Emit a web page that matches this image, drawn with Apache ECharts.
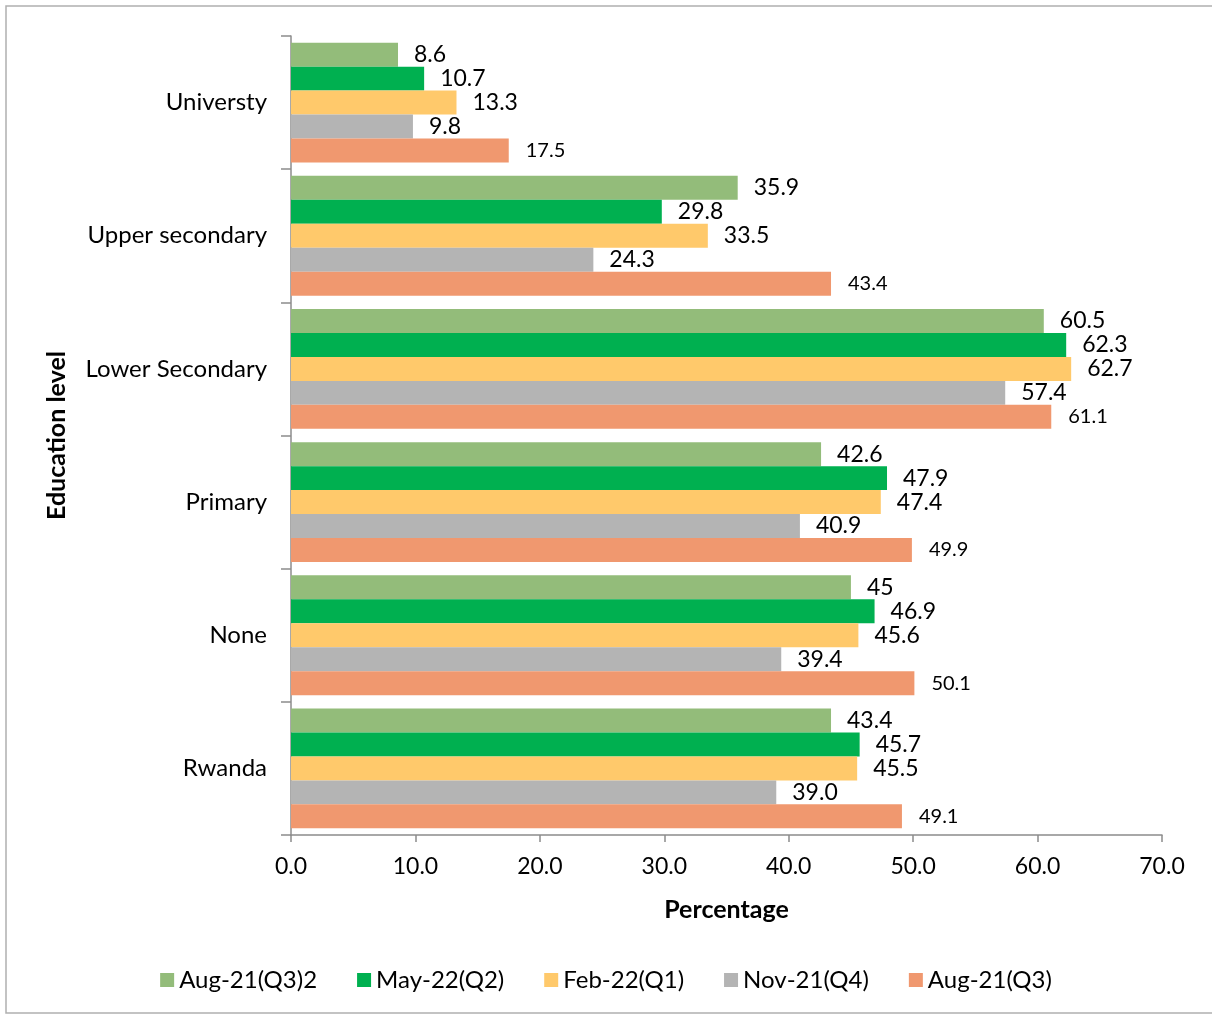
<!DOCTYPE html>
<html>
<head>
<meta charset="utf-8">
<script src="https://cdn.jsdelivr.net/npm/echarts@6/dist/echarts.min.js"></script>
<style>
  html, body { margin: 0; padding: 0; background: #fff; }
  #chart { width: 1212px; height: 1015px; }
</style>
</head>
<body>
<div id="chart"></div>
<script>
const categories = ['Rwanda', 'None', 'Primary', 'Lower Secondary', 'Upper secondary', 'Universty']

const aug21b = [43.4, 45, 42.6, 60.5, 35.9, 8.6]
const may22 = [45.7, 46.9, 47.9, 62.3, 29.8, 10.7]
const feb22 = [45.5, 45.6, 47.4, 62.7, 33.5, 13.3]
const nov21 = [39.0, 39.4, 40.9, 57.4, 24.3, 9.8]
const aug21 = [49.1, 50.1, 49.9, 61.1, 43.4, 17.5]

const seriesNames = ['Aug-21(Q3)2', 'May-22(Q2)', 'Feb-22(Q1)', 'Nov-21(Q4)', 'Aug-21(Q3)']
const seriesData = [aug21b, may22, feb22, nov21, aug21]
const colors = ['#93BC7A', '#00B050', '#FFC96B', '#B4B4B4', '#F0986F']

const font = 'Lato, "Open Sans", sans-serif'
const chart = echarts.init(document.getElementById('chart'))

const series = seriesNames.map((name, i) => ({
    name: name,
    type: 'bar',
    data: seriesData[i],
    barGap: 0,
    barCategoryGap: '10%',
    itemStyle: { color: colors[i] },
    label: {
        show: true,
        position: 'right',
        distance: i === 4 ? 17 : 16,
        color: '#000',
        fontFamily: font,
        fontSize: i === 4 ? 20 : 23,
        formatter: p => i === 0 ? String(p.value) : p.value.toFixed(1)
    }
}))

chart.setOption({
    animation: false,
    textStyle: { fontFamily: font },
    graphic: [{
        type: 'rect',
        shape: { x: 6, y: 6, width: 1220, height: 1007 },
        style: { fill: null, stroke: '#B0B0B0', lineWidth: 1.5 },
        silent: true
    }],
    legend: {
        data: seriesNames,
        top: 963,
        left: 'center',
        itemWidth: 14,
        itemHeight: 14,
        itemGap: 40,
        icon: 'rect',
        textStyle: { fontSize: 24, color: '#000', fontFamily: font }
    },
    grid: { left: 291, right: 50, top: 36, bottom: 180 },
    xAxis: {
        type: 'value',
        min: 0,
        max: 70,
        interval: 10,
        name: 'Percentage',
        nameLocation: 'middle',
        nameGap: 62,
        nameTextStyle: { fontSize: 25, fontWeight: 'bold', color: '#000', fontFamily: font },
        axisLine: { show: true, lineStyle: { color: '#8C8C8C', width: 1.5 } },
        axisTick: { show: true, length: 7, lineStyle: { color: '#8C8C8C', width: 1.5 } },
        axisLabel: { fontSize: 23, color: '#000', margin: 20, formatter: v => v.toFixed(1), fontFamily: font },
        splitLine: { show: false }
    },
    yAxis: {
        type: 'category',
        data: categories,
        name: 'Education level',
        nameLocation: 'middle',
        nameGap: 222,
        nameRotate: 90,
        nameTextStyle: { fontSize: 25, fontWeight: 'bold', color: '#000', fontFamily: font },
        axisLine: { show: true, lineStyle: { color: '#8C8C8C', width: 1.5 } },
        axisTick: { show: true, length: 10, lineStyle: { color: '#8C8C8C', width: 1.5 } },
        axisLabel: { fontSize: 24, color: '#000', margin: 24, fontFamily: font }
    },
    series: series
})
</script>
</body>
</html>
